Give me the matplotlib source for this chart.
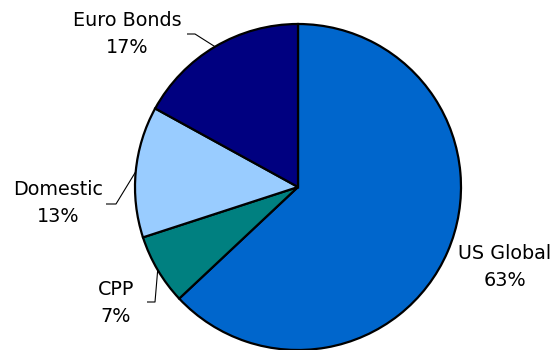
import matplotlib
matplotlib.use("Agg")
import matplotlib.pyplot as plt
import numpy as np

categories = ["US Global", "CPP", "Domestic", "Euro Bonds"]
values = [63, 7, 13, 17]
colors = ["#0066CC", "#008080", "#99CCFF", "#000080"]

W, H = 558, 350
fig = plt.figure(figsize=(W / 100, H / 100), dpi=100)
ax = fig.add_axes([0, 0, 1, 1])

cx, cy, r = 298, H - 187, 163
wedges, _ = ax.pie(values, colors=colors, startangle=90, counterclock=False,
                   center=(cx, cy), radius=r, frame=True,
                   wedgeprops=dict(edgecolor="black", linewidth=1.6))
ax.set_xlim(0, W)
ax.set_ylim(0, H)
ax.set_aspect("equal")
ax.axis("off")

# label text centers (pixel coords, y from top) and leader elbows
label_pos = {"US Global": (505, 267), "CPP": (116, 303),
             "Domestic": (58, 203), "Euro Bonds": (127, 34)}
elbows = {"CPP": ((147, 302), (155, 302)),
          "Domestic": ((106, 204), (116, 204)),
          "Euro Bonds": ((187, 34), (195, 34))}

for w, name, v in zip(wedges, categories, values):
    x, y = label_pos[name]
    ax.text(x, H - y, f"{name}\n{v}%", ha="center", va="center",
            fontsize=13.8, family="DejaVu Sans", linespacing=1.5, color="black")
    if name in elbows:
        mid = np.deg2rad((w.theta1 + w.theta2) / 2)
        ex, ey = cx + r * np.cos(mid), cy + r * np.sin(mid)
        (x0, y0), (x1, y1) = elbows[name]
        ax.plot([x0, x1, ex], [H - y0, H - y1, ey], color="black", lw=0.8,
                solid_capstyle="butt")

fig.savefig("out.png", dpi=100)
